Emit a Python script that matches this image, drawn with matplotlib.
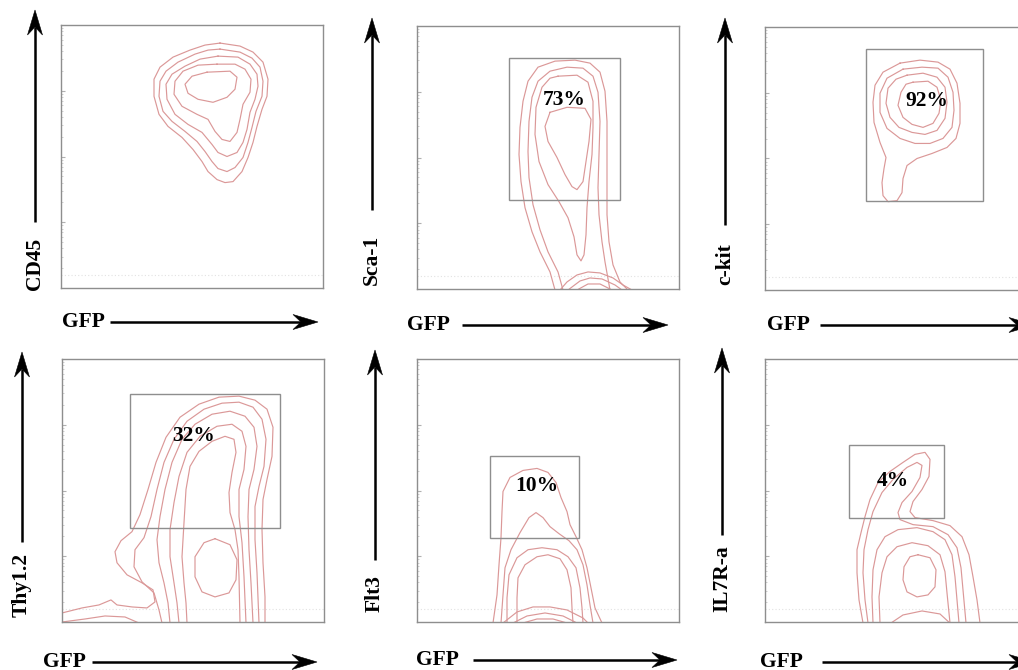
import numpy as np
import matplotlib
matplotlib.use("Agg")
import matplotlib.pyplot as plt
from matplotlib.patches import Rectangle, Polygon
from matplotlib.lines import Line2D

# --- data (channel units, 0..262 on both axes) ---
markers = ["CD45", "Sca-1", "c-kit", "Thy1.2", "Flt3", "IL7R-a"]
gate_pct = [None, "73%", "92%", "32%", "10%", "4%"]
# gate: x0, x1, y0, y1
gates = [None, (92, 203, 89, 230), (101, 218, 89, 240), (68, 218, 94, 227),
         (73, 162, 84, 165), (84, 179, 104, 176)]

cd45_lines = [
    [(159, 244), (179, 241), (192, 235), (202, 225), (207, 208), (206, 191), (201, 178), (196, 161),
     (192, 145), (187, 130), (181, 116), (172, 106), (164, 105), (156, 108), (147, 116), (141, 126),
     (132, 138), (121, 150), (107, 161), (98, 173), (93, 191), (93, 208), (99, 220), (112, 230),
     (129, 237), (144, 242)],
    [(159, 238), (179, 235), (191, 229), (199, 220), (202, 206), (201, 191), (195, 176), (191, 160),
     (187, 145), (182, 130), (174, 120), (166, 116), (157, 119), (151, 126), (144, 136), (136, 146),
     (124, 156), (111, 166), (102, 176), (98, 191), (99, 206), (105, 216), (117, 225), (134, 233),
     (147, 237)],
    [(157, 231), (177, 230), (189, 223), (196, 213), (197, 201), (194, 188), (189, 175), (186, 158),
     (182, 145), (176, 135), (166, 131), (157, 135), (151, 143), (141, 155), (127, 163), (114, 173),
     (106, 188), (105, 203), (111, 213), (124, 221), (139, 228)],
    [(156, 223), (174, 223), (184, 218), (190, 208), (189, 195), (182, 183), (179, 168), (176, 155),
     (169, 146), (161, 148), (154, 156), (147, 168), (136, 173), (121, 181), (113, 193), (114, 206),
     (122, 216), (137, 222)],
    [(146, 215), (169, 216), (176, 210), (174, 198), (166, 190), (152, 185), (137, 188), (127, 194),
     (124, 203), (131, 211)],
]

sca1_lines = [
    [(138, -1), (133, 17), (123, 37), (115, 57), (108, 81), (104, 107), (102, 134), (103, 161),
     (106, 187), (111, 207), (121, 221), (138, 227), (158, 228), (173, 225), (183, 216), (188, 197),
     (190, 167), (190, 134), (190, 101), (190, 74), (192, 47), (196, 24), (203, 7), (211, -1)],
    [(146, -1), (141, 17), (131, 37), (123, 59), (116, 84), (112, 111), (111, 137), (112, 167),
     (115, 191), (121, 207), (133, 217), (150, 221), (166, 220), (176, 212), (181, 196), (183, 167),
     (182, 134), (181, 101), (182, 74), (185, 47), (188, 27), (193, -1)],
    [(141, 212), (160, 213), (171, 206), (176, 187), (176, 161), (175, 134), (172, 107), (170, 81),
     (169, 54), (167, 34), (164, 28), (160, 34), (157, 52), (151, 71), (142, 87), (131, 104),
     (122, 127), (118, 154), (119, 181), (125, 201), (133, 210)],
    [(133, 176), (150, 181), (168, 180), (174, 169), (172, 147), (169, 127), (166, 107), (160, 99),
     (155, 102), (148, 114), (140, 131), (131, 147), (128, 162)],
    [(143, -1), (150, 7), (160, 14), (171, 17), (183, 16), (196, 11), (206, 4), (215, -1)],
    [(151, -1), (163, 8), (173, 11), (185, 10), (198, 4), (205, -1)],
    [(160, -1), (171, 5), (183, 5), (195, -1)],
]

ckit_lines = [
    [(135, 226), (155, 229), (173, 227), (185, 220), (192, 206), (195, 186), (195, 166), (191, 151),
     (182, 142), (167, 136), (152, 131), (142, 124), (138, 111), (137, 97), (132, 89), (123, 88),
     (118, 94), (117, 107), (119, 121), (121, 132), (115, 147), (109, 167), (108, 187), (110, 204),
     (118, 217)],
    [(138, 220), (157, 222), (173, 221), (183, 212), (188, 197), (189, 179), (187, 162), (178, 151),
     (165, 146), (150, 146), (135, 151), (122, 161), (115, 177), (115, 196), (122, 211)],
    [(142, 214), (158, 216), (172, 212), (180, 202), (182, 187), (180, 171), (172, 159), (160, 155),
     (147, 157), (134, 162), (125, 172), (121, 186), (123, 201), (131, 210)],
    [(148, 207), (163, 208), (172, 202), (176, 189), (174, 176), (168, 166), (158, 162), (147, 165),
     (138, 172), (133, 184), (136, 197), (141, 205)],
]

thy12_lines = [
    [(0, 9), (20, 14), (37, 17), (49, 22), (55, 17), (70, 15), (85, 14), (93, 20), (91, 32), (80, 39),
     (65, 47), (55, 59), (53, 70), (59, 81), (70, 90), (78, 107), (86, 132), (94, 159), (104, 184),
     (118, 204), (137, 217), (157, 224), (177, 225), (193, 221), (205, 212), (211, 194), (210, 165),
     (205, 142), (201, 122), (200, 92), (201, 59), (203, 25), (203, -1)],
    [(100, -1), (97, 12), (92, 29), (80, 40), (72, 55), (73, 72), (82, 84), (89, 105), (95, 132),
     (102, 159), (112, 182), (125, 200), (142, 212), (160, 218), (177, 219), (191, 214), (200, 202),
     (204, 182), (202, 155), (197, 135), (193, 115), (193, 82), (195, 49), (197, -1)],
    [(108, -1), (106, 19), (102, 39), (97, 59), (95, 82), (98, 105), (103, 132), (110, 159),
     (120, 182), (133, 197), (150, 207), (168, 210), (183, 205), (192, 194), (195, 175), (192, 152),
     (187, 132), (186, 105), (187, 72), (189, 39), (191, -1)],
    [(117, -1), (115, 19), (112, 39), (108, 65), (108, 92), (112, 119), (117, 145), (125, 169),
     (138, 185), (155, 195), (170, 197), (180, 190), (184, 175), (182, 152), (177, 132), (177, 105),
     (180, 79), (182, 45), (184, -1)],
    [(125, -1), (124, 19), (122, 39), (120, 65), (122, 99), (124, 132), (128, 155), (137, 170),
     (150, 180), (163, 185), (172, 182), (174, 169), (170, 149), (167, 129), (168, 109), (173, 92),
     (176, 72), (177, 45), (178, -1)],
    [(153, 83), (168, 77), (175, 62), (174, 42), (167, 29), (153, 25), (140, 30), (133, 45), (133, 65),
     (142, 79)],
    [(0, 0), (23, 3), (43, 6), (63, 5), (77, -1)],
]

flt3_lines = [
    [(76, -1), (80, 27), (82, 57), (84, 84), (85, 110), (86, 130), (93, 144), (106, 151), (120, 153),
     (131, 149), (139, 139), (144, 124), (150, 110), (153, 97), (159, 85), (165, 72), (170, 54),
     (174, 34), (178, 14), (185, -1)],
    [(84, -1), (86, 27), (88, 54), (94, 72), (103, 89), (112, 104), (119, 109), (126, 104), (133, 95),
     (142, 88), (152, 81), (160, 72), (166, 57), (170, 37), (173, 17), (176, -1)],
    [(90, -1), (90, 24), (92, 47), (100, 64), (111, 72), (125, 74), (140, 72), (151, 65), (159, 54),
     (163, 34), (165, 14), (166, -1)],
    [(100, -1), (100, 24), (101, 44), (108, 57), (120, 65), (131, 67), (143, 63), (150, 52), (154, 34),
     (155, 14), (156, -1)],
    [(86, -1), (100, 10), (116, 15), (133, 15), (150, 12), (166, 4), (171, -1)],
    [(96, -1), (110, 6), (128, 9), (146, 6), (160, -1)],
    [(106, -1), (120, 3), (136, 3), (150, -1)],
]

il7r_lines = [
    [(98, -1), (94, 22), (92, 49), (92, 72), (96, 89), (100, 105), (105, 122), (113, 139), (125, 150),
     (138, 159), (150, 167), (160, 169), (165, 162), (164, 145), (157, 132), (148, 120), (145, 110),
     (150, 104), (168, 101), (185, 96), (197, 85), (204, 67), (208, 45), (212, 22), (215, -1)],
    [(103, -1), (100, 22), (98, 49), (99, 72), (103, 92), (108, 110), (117, 129), (128, 142),
     (142, 154), (152, 159), (157, 156), (155, 144), (147, 130), (137, 119), (133, 109), (135, 102),
     (148, 97), (168, 95), (183, 87), (192, 74), (196, 54), (198, 32), (201, -1)],
    [(108, -1), (107, 25), (108, 52), (112, 72), (120, 85), (133, 92), (152, 94), (168, 90), (180, 82),
     (187, 67), (190, 45), (192, 22), (194, -1)],
    [(115, -1), (114, 25), (117, 49), (122, 65), (132, 75), (147, 79), (163, 76), (175, 67), (180, 50),
     (182, 29), (185, -1)],
    [(153, 67), (165, 64), (171, 52), (170, 35), (163, 27), (152, 25), (142, 30), (138, 42), (139, 55),
     (145, 65)],
    [(123, -3), (138, 7), (157, 11), (175, 8), (187, -3)],
]

panel_lines = [cd45_lines, sca1_lines, ckit_lines, thy12_lines, flt3_lines, il7r_lines]

# --- layout (pixels of the 1018x670 picture) ---
W, H = 1018, 670
CH = 262
boxes = [(61, 25), (417, 26), (765, 27), (62, 359), (417, 359), (765, 359)]
pct_pos = [None, (147, 188), (162, 188), (132, 185), (120, 135), (128, 140)]
ylab_pos = [(35, 290), (372, 285), (725, 285), (22, 617), (375, 612), (722, 612)]
yarrows = [(35, 222, 10), (372, 210, 18), (725, 225, 18), (22, 542, 352), (375, 560, 350), (722, 535, 348)]
gfp_pos = [(62, 322), (407, 325), (767, 325), (43, 662), (416, 660), (760, 662)]
xarrows = [(110, 318, 322), (462, 668, 325), (820, 1034, 325), (92, 317, 662), (473, 677, 660), (822, 1034, 662)]

FONT = "Liberation Serif"
LINE_COLOR = "#db9898"
BOX_COLOR = "#8e8e8e"

fig = plt.figure(figsize=(W / 100, H / 100), dpi=100)


def fpos(x, y):
    return x / W, 1 - y / H


def arrow(x0, y0, x1, y1):
    d = np.array([x1 - x0, y1 - y0], float)
    u = d / np.hypot(*d)
    n = np.array([-u[1], u[0]])
    hl, hw, notch = 25, 7.5, 8
    tip = np.array([x1, y1], float)
    back = tip - u * hl
    inner = tip - u * (hl - notch)
    a, b = fpos(x0, y0), fpos(*inner)
    fig.add_artist(Line2D([a[0], b[0]], [a[1], b[1]], transform=fig.transFigure,
                          color="black", lw=1.8, solid_capstyle="butt"))
    pts = [fpos(*tip), fpos(*(back + n * hw)), fpos(*inner), fpos(*(back - n * hw))]
    fig.add_artist(Polygon(pts, closed=True, transform=fig.transFigure,
                           fc="black", ec="black", lw=0.4))


decade = CH / 4
minor = [d * decade + np.log10(k) * decade for d in range(4) for k in range(2, 10)]

for i in range(6):
    bx, by = boxes[i]
    ax = fig.add_axes([bx / W, 1 - (by + 263) / H, 262 / W, 263 / H])
    ax.set_xlim(0, CH)
    ax.set_ylim(0, CH)
    ax.set_xticks([])
    ax.set_yticks([decade, 2 * decade, 3 * decade])
    ax.set_yticks(minor, minor=True)
    ax.tick_params(axis="y", which="major", direction="in", length=3, width=0.8,
                   color="#b0b0b0", labelleft=False)
    ax.tick_params(axis="y", which="minor", direction="in", length=1.5, width=0.6,
                   color="#c8c8c8")
    for s in ax.spines.values():
        s.set_color(BOX_COLOR)
        s.set_linewidth(1.0)
    ax.axhline(13, color="#e2e2e2", lw=0.8, ls=(0, (1, 2)))

    for line in panel_lines[i]:
        xs = [p[0] for p in line]
        ys = [p[1] for p in line]
        if xs[0] > 0 and ys[0] > 0:
            xs.append(xs[0])
            ys.append(ys[0])
        ax.plot(xs, ys, color=LINE_COLOR, lw=0.85, solid_joinstyle="round")

    if gates[i] is not None:
        x0, x1, y0, y1 = gates[i]
        ax.add_patch(Rectangle((x0, y0), x1 - x0, y1 - y0, fill=False,
                               ec=BOX_COLOR, lw=1.0, zorder=3))
        px_, py_ = pct_pos[i]
        ax.text(px_, py_, gate_pct[i], ha="center", va="center", fontsize=15.5,
                fontweight="bold", family=FONT, zorder=4)

    # y label + arrow
    lx, ly = ylab_pos[i]
    fig.text(*fpos(lx, ly), markers[i], rotation=90, ha="center", va="bottom",
             fontsize=15.5, fontweight="bold", family=FONT)
    ax_x, ay0, ay1 = yarrows[i]
    arrow(ax_x, ay0, ax_x, ay1)

    # x label + arrow
    gx, gy = gfp_pos[i]
    fig.text(*fpos(gx, gy), "GFP", ha="left", va="center", fontsize=15.5,
             fontweight="bold", family=FONT)
    xa0, xa1, xy = xarrows[i]
    arrow(xa0, xy, xa1, xy)

fig.savefig("out.png", dpi=100)
